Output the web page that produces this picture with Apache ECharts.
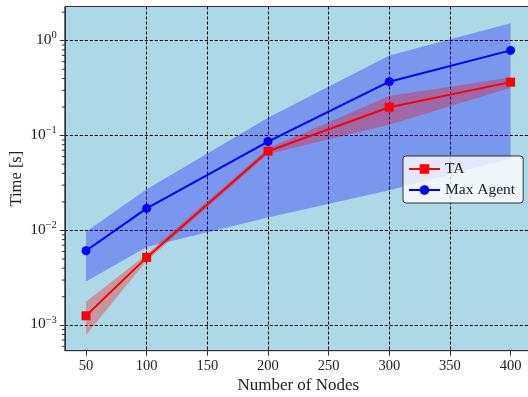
<!DOCTYPE html>
<html><head><meta charset="utf-8">
<script src="https://cdn.jsdelivr.net/npm/echarts@6/dist/echarts.min.js"></script>
<style>html,body{margin:0;padding:0;background:#fff}#c{width:528px;height:397px}</style>
</head><body><div id="c"></div>
<script>
// ---- data ----
const nodes = [50, 100, 200, 300, 400];
const taMean = [0.00126, 0.0052, 0.0684, 0.199, 0.366];
const taLower = [0.00079, 0.0048, 0.0640, 0.130, 0.320];
const taUpper = [0.00177, 0.0056, 0.0730, 0.262, 0.410];
const maMean = [0.0061, 0.0171, 0.0865, 0.370, 0.790];
const maLower = [0.0029, 0.0067, 0.0137, 0.0265, 0.057];
const maUpper = [0.0097, 0.0272, 0.154, 0.700, 1.53];
const xTicks = [50, 100, 150, 200, 250, 300, 350, 400];
const yTicks = [0.001, 0.01, 0.1, 1];
const yTickExps = ['\u22123', '\u22122', '\u22121', '0'];
const yMinorTicks = [6e-4, 7e-4, 8e-4, 9e-4,
  2e-3, 3e-3, 4e-3, 5e-3, 6e-3, 7e-3, 8e-3, 9e-3,
  2e-2, 3e-2, 4e-2, 5e-2, 6e-2, 7e-2, 8e-2, 9e-2,
  0.2, 0.3, 0.4, 0.5, 0.6, 0.7, 0.8, 0.9, 2];
const xMin = 32.5, xMax = 417.5;
const yMin = 5.4e-4, yMax = 2.293;

const FONT = 'Liberation Serif';
const chart = echarts.init(document.getElementById('c'), null, {renderer: 'canvas'});

function band(name, lower, upper, color) {
  return {
    type: 'custom', name: name, silent: true, z: 1, clip: true,
    data: [[nodes[0], lower[0]]],
    renderItem: function (params, api) {
      const pts = [];
      for (let i = 0; i < nodes.length; i++) pts.push(api.coord([nodes[i], upper[i]]));
      for (let i = nodes.length - 1; i >= 0; i--) pts.push(api.coord([nodes[i], lower[i]]));
      return {type: 'polygon', shape: {points: pts}, style: {fill: color}};
    }
  };
}

const option = {
  animation: false,
  backgroundColor: '#ffffff',
  grid: {left: 64.8, top: 6.5, width: 467, bottom: 46.3, show: true,
    outerBoundsMode: 'none', containLabel: false,
    backgroundColor: '#add8e6', borderColor: '#333', borderWidth: 1},
  legend: {
    data: ['TA', 'Max Agent'], orient: 'vertical', left: 403, top: 156,
    backgroundColor: 'rgba(255,255,255,0.8)', borderColor: '#333', borderWidth: 1,
    borderRadius: 3, padding: [5, 8, 5, 5], itemGap: 5, itemWidth: 31, itemHeight: 12,
    textStyle: {fontFamily: FONT, fontSize: 15.5, color: '#222'}
  },
  xAxis: {
    type: 'value', min: xMin, max: xMax,
    name: 'Number of Nodes', nameLocation: 'middle', nameGap: 26, nameMoveOverlap: false,
    nameTextStyle: {fontFamily: FONT, fontSize: 17, color: '#222'},
    axisLine: {show: true, lineStyle: {color: '#333', width: 1}},
    axisTick: {show: true, length: 5, customValues: xTicks, lineStyle: {color: '#333'}},
    axisLabel: {customValues: xTicks, fontFamily: FONT, fontSize: 14.5, color: '#222', margin: 8},
    splitLine: {show: true, showMinLine: false, showMaxLine: false,
      lineStyle: {color: '#000', type: [3, 2], width: 1}}
  },
  yAxis: {
    type: 'log', logBase: 10, min: yMin, max: yMax,
    name: 'Time [s]', nameLocation: 'middle', nameGap: 40, nameMoveOverlap: false,
    nameTextStyle: {fontFamily: FONT, fontSize: 16.5, color: '#222'},
    axisLine: {show: true, lineStyle: {color: '#333', width: 1}},
    axisTick: {show: true, length: 5, customValues: yTicks, lineStyle: {color: '#333'}},
    axisLabel: {
      customValues: yTicks, margin: 8, padding: [0, 0, 4, 0],
      formatter: function (v) {
        const e = Math.round(Math.log10(v));
        const idx = yTicks.findIndex(t => Math.abs(Math.log10(t) - e) < 1e-6);
        if (idx < 0) return '';
        return '{b|10}{s|' + yTickExps[idx] + '}';
      },
      rich: {
        b: {fontFamily: FONT, fontSize: 15.5, color: '#222', verticalAlign: 'bottom'},
        s: {fontFamily: FONT, fontSize: 10.5, color: '#222', verticalAlign: 'bottom', padding: [0, 0, 7, 0]}
      }
    },
    splitLine: {show: true,
      lineStyle: {color: '#000', type: [3, 2], width: 1}}
  },
  series: [
    band('Max Agent band', maLower, maUpper, 'rgba(0,0,255,0.3)'),
    band('TA band', taLower, taUpper, 'rgba(255,0,0,0.3)'),
    {
      name: 'TA', type: 'line', z: 3,
      data: nodes.map((n, i) => [n, taMean[i]]),
      symbol: 'rect', symbolSize: 9, color: '#ff0000',
      lineStyle: {width: 2, color: '#ff0000'}, itemStyle: {color: '#ff0000', borderWidth: 0}
    },
    {
      name: 'Max Agent', type: 'line', z: 4,
      data: nodes.map((n, i) => [n, maMean[i]]),
      symbol: 'circle', symbolSize: 9, color: '#0000ff',
      lineStyle: {width: 2, color: '#0000ff'}, itemStyle: {color: '#0000ff', borderWidth: 0}
    },
    {
      type: 'custom', name: 'minor', silent: true, clip: false, z: 5,
      data: yMinorTicks.map(v => [xMin, v]),
      renderItem: function (params, api) {
        const p = api.coord([xMin, api.value(1)]);
        const x0 = params.coordSys.x;
        return {type: 'line', shape: {x1: x0 - 3, y1: p[1], x2: x0, y2: p[1]},
          style: {stroke: '#333', lineWidth: 1}};
      }
    }
  ]
};
chart.setOption(option);
</script></body></html>
